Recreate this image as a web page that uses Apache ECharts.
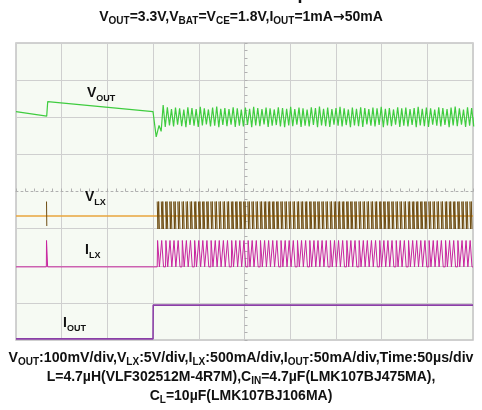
<!DOCTYPE html>
<html>
<head>
<meta charset="utf-8">
<script src="https://cdn.jsdelivr.net/npm/echarts@6/dist/echarts.min.js"></script>
<style>
html,body{margin:0;padding:0;background:#fff}
#main{width:482px;height:410px}
</style>
</head>
<body>
<div id="main"></div>
<script>
// time in us (trigger screen centred, -250 .. 250), y in scope divisions (-4 .. 4)
var pulseTimes = [
  -95.5, -91.0, -86.4, -81.9, -77.5, -73.0, -68.4, -64.0, -59.5, -54.9,
  -50.4, -46.0, -41.5, -36.9, -32.4, -28.0, -23.5, -19.0, -14.4, -9.9,
  -5.5, -1.0, 3.6, 8.0, 12.5, 17.1, 21.6, 26.0, 30.5, 35.0,
  39.6, 44.1, 48.5, 53.0, 57.6, 62.0, 66.5, 71.1, 75.6, 80.0,
  84.5, 89.0, 93.6, 98.1, 102.5, 107.0, 111.6, 116.0, 120.5, 125.1,
  129.6, 134.0, 138.5, 143.0, 147.6, 152.1, 156.5, 161.0, 165.6, 170.0,
  174.5, 179.1, 183.6, 188.0, 192.5, 197.0, 201.6, 206.1, 210.5, 215.0,
  219.6, 224.0, 228.5, 233.1, 237.6, 242.0, 246.5
];
var lightPulse = -216.6;   // single pulse while the load is still 1mA

// VOUT before the load step, then ripple peaks / troughs per switching cycle
var voutStart = [[-250, 2.15], [-216.4, 2.03], [-215.3, 2.42], [-100.1, 2.15], [-96.6, 1.47]];
var voutPeaks = [
  1.78, 2.33, 2.27, 2.22, 2.26, 2.24, 2.21, 2.27, 2.25, 2.22,
  2.28, 2.24, 2.21, 2.26, 2.29, 2.23, 2.25, 2.22, 2.27, 2.24,
  2.21, 2.26, 2.23, 2.28, 2.25, 2.22, 2.26, 2.24, 2.21, 2.27,
  2.25, 2.23, 2.28, 2.22, 2.26, 2.24, 2.21, 2.27, 2.25, 2.29,
  2.23, 2.26, 2.22, 2.25, 2.28, 2.24, 2.21, 2.26, 2.23, 2.27,
  2.25, 2.22, 2.26, 2.24, 2.28, 2.23, 2.25, 2.21, 2.27, 2.24,
  2.26, 2.22, 2.25, 2.28, 2.23, 2.26, 2.24, 2.21, 2.27, 2.25,
  2.22, 2.26, 2.29, 2.24, 2.21, 2.27, 2.25
];
var voutTroughs = [
  1.62, 1.74, 1.78, 1.75, 1.80, 1.76, 1.73, 1.79, 1.77, 1.74,
  1.78, 1.81, 1.75, 1.77, 1.73, 1.79, 1.76, 1.80, 1.74, 1.77,
  1.75, 1.79, 1.73, 1.78, 1.76, 1.81, 1.74, 1.77, 1.79, 1.75,
  1.73, 1.78, 1.76, 1.80, 1.74, 1.77, 1.75, 1.79, 1.73, 1.78,
  1.76, 1.74, 1.80, 1.77, 1.75, 1.79, 1.73, 1.78, 1.76, 1.74,
  1.81, 1.77, 1.75, 1.79, 1.73, 1.78, 1.76, 1.80, 1.74, 1.77,
  1.75, 1.79, 1.73, 1.78, 1.76, 1.74, 1.80, 1.77, 1.75, 1.79,
  1.73, 1.78, 1.76, 1.80, 1.74, 1.77, 1.75
];

// VLX levels (div)
var vlxBase = -0.66, vlxHigh = -0.27, vlxLow = -1.01;
// ILX levels (div)
var ilxBase = -2.03, ilxPeak = -1.32;
// IOUT step 1mA -> 50mA
var ioutPts = [[-250, -3.97], [-100.1, -3.97], [-99.9, -3.06], [250, -3.06]];

var vout = voutStart.slice();
pulseTimes.forEach(function (t, i) {
  vout.push([t + 2.0, voutPeaks[i]], [t + 4.3, voutTroughs[i]]);
});
vout.push([250, 2.0]);

var vlx = [[lightPulse, vlxHigh], [lightPulse + 0.3, vlxLow + 0.08], [lightPulse + 0.5, '-']];
pulseTimes.forEach(function (t) {
  vlx.push([t, vlxHigh], [t + 0.8, vlxLow], [t + 1.6, vlxHigh], [t + 2.4, vlxLow], [t + 2.5, '-']);
});

var ilx = [[-250, ilxBase], [lightPulse - 0.2, ilxBase], [lightPulse, ilxPeak], [lightPulse + 1.2, ilxBase]];
pulseTimes.forEach(function (t) {
  ilx.push([t, ilxBase], [t + 0.4, ilxPeak], [t + 2.4, ilxBase]);
});
ilx.push([250, ilxBase]);

var FONT = '"Liberation Sans", Arial, sans-serif';

function label(x, y, main, s) {
  return {
    type: 'text', left: x, top: y, z: 100,
    style: {
      text: '{a|' + main + '}{b|' + s + '}',
      rich: {
        a: { fontFamily: FONT, fontWeight: 'bold', fontSize: 14, lineHeight: 14, verticalAlign: 'bottom', padding: [0, 0, 3, 0], fill: '#111' },
        b: { fontFamily: FONT, fontWeight: 'bold', fontSize: 9, lineHeight: 9, verticalAlign: 'bottom', fill: '#111' }
      }
    }
  };
}

function line(y, parts, size, subSize) {
  // parts: array of [main, subscript]; '->' in main becomes a DejaVu arrow
  var rich = {
    a: { fontFamily: FONT, fontWeight: 'bold', fontSize: size, lineHeight: size + 2, verticalAlign: 'bottom', padding: [0, 0, 2, 0], fill: '#111' },
    b: { fontFamily: FONT, fontWeight: 'bold', fontSize: subSize, lineHeight: subSize, verticalAlign: 'bottom', fill: '#111' },
    c: { fontFamily: '"DejaVu Sans"', fontWeight: 'bold', fontSize: size, lineHeight: size + 2, verticalAlign: 'bottom', padding: [0, 0, 2, 0], fill: '#111' }
  };
  var txt = parts.map(function (p) {
    var m = p[0].split('->').join('}{c|\u2192}{a|');
    return '{a|' + m + '}' + (p[1] ? '{b|' + p[1] + '}' : '');
  }).join('');
  return { type: 'text', left: 'center', top: y, style: { text: txt, rich: rich } };
}

var chart = echarts.init(document.getElementById('main'));
var gridColor = '#cfcfcf';
chart.setOption({
  animation: false,
  backgroundColor: '#fff',
  grid: {
    left: 16, right: 9, top: 43, bottom: 70,
    show: true, backgroundColor: '#f6faf3', borderColor: '#c2c2c2', borderWidth: 1.5
  },
  xAxis: {
    type: 'value', min: -250, max: 250, interval: 50,
    axisLabel: { show: false },
    axisLine: { show: true, onZero: true, lineStyle: { color: '#b0b0b0', width: 1, type: [2, 3] } },
    axisTick: { show: true, inside: true, length: 3, lineStyle: { color: '#b0b0b0' } },
    minorTick: { show: true, splitNumber: 5, length: 3, lineStyle: { color: '#b0b0b0' } },
    splitLine: { show: true, lineStyle: { color: gridColor, width: 1 } }
  },
  yAxis: {
    type: 'value', min: -4, max: 4, interval: 1,
    axisLabel: { show: false },
    axisLine: { show: true, onZero: true, lineStyle: { color: '#c8c8c8', width: 1 } },
    axisTick: { show: true, inside: true, length: 3, lineStyle: { color: '#b0b0b0' } },
    minorTick: { show: true, splitNumber: 5, length: 3, lineStyle: { color: '#b0b0b0' } },
    splitLine: { show: true, lineStyle: { color: [gridColor, gridColor, gridColor, gridColor, 'rgba(0,0,0,0)', gridColor, gridColor, gridColor, gridColor], width: 1 } }
  },
  series: [
    { name: 'IOUT', type: 'line', data: ioutPts, symbol: 'none', silent: true,
      lineStyle: { color: '#8a3ea6', width: 1.6 } },
    { name: 'ILX', type: 'line', data: ilx, symbol: 'none', silent: true,
      lineStyle: { color: '#c8249f', width: 1 } },
    { name: 'VLX base', type: 'line', data: [[-250, vlxBase], [250, vlxBase]], symbol: 'none', silent: true,
      lineStyle: { color: '#e8a43c', width: 1.6 } },
    { name: 'VLX', type: 'line', data: vlx, symbol: 'none', silent: true, connectNulls: false,
      lineStyle: { color: '#6e4c12', width: 1 } },
    { name: 'VOUT', type: 'line', data: vout, symbol: 'none', silent: true,
      lineStyle: { color: '#3fcc3f', width: 1.2 } }
  ],
  graphic: [
    { type: 'text', left: 'center', top: -15, style: { text: 'Load Transient Response', fontFamily: FONT, fontWeight: 'bold', fontSize: 18, fill: '#111' } },
    line(10, [['V', 'OUT'], ['=3.3V,V', 'BAT'], ['=V', 'CE'], ['=1.8V,I', 'OUT'], ['=1mA->50mA', '']], 14, 10),
    label(87, 86, 'V', 'OUT'),
    label(85, 190, 'V', 'LX'),
    label(85, 243, 'I', 'LX'),
    label(63, 316, 'I', 'OUT'),
    line(351, [['V', 'OUT'], [':100mV/div,V', 'LX'], [':5V/div,I', 'LX'], [':500mA/div,I', 'OUT'], [':50mA/div,Time:50\u00b5s/div', '']], 14.2, 10),
    line(370, [['L=4.7\u00b5H(VLF302512M-4R7M),C', 'IN'], ['=4.7\u00b5F(LMK107BJ475MA),', '']], 14, 10),
    line(389, [['C', 'L'], ['=10\u00b5F(LMK107BJ106MA)', '']], 14, 10)
  ]
});
</script>
</body>
</html>
